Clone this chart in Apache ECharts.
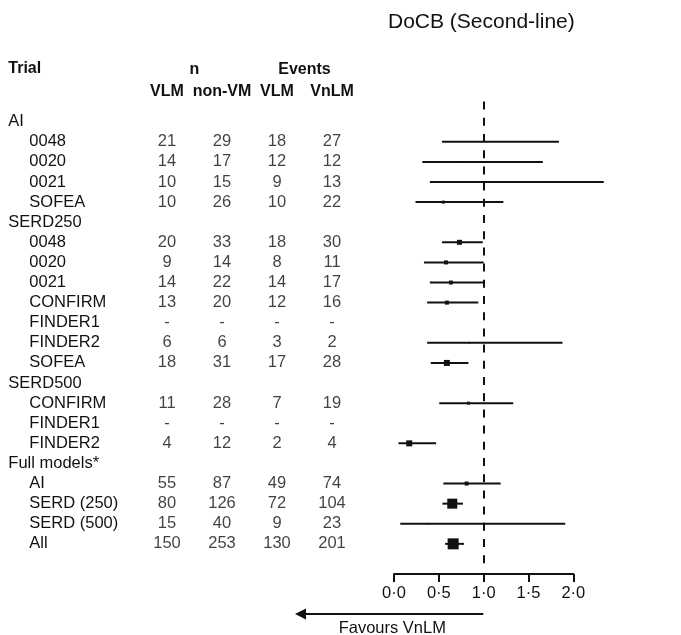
<!DOCTYPE html>
<html>
<head>
<meta charset="utf-8">
<script src="https://cdn.jsdelivr.net/npm/echarts@6/dist/echarts.min.js"></script>
<style>html,body{margin:0;padding:0;background:#fff}#c{width:681px;height:635px}</style>
</head>
<body>
<div id="c"></div>
<script>
// ---------- DATA ----------
const rowNames = ['AI','0048','0020','0021','SOFEA','SERD250','0048','0020','0021','CONFIRM','FINDER1','FINDER2','SOFEA','SERD500','CONFIRM','FINDER1','FINDER2','Full models*','AI','SERD (250)','SERD (500)','All'];
const rowLevel = [0,1,1,1,1,0,1,1,1,1,1,1,1,0,1,1,1,0,1,1,1,1];
const colHeaders = ['VLM','non-VM','VLM','VnLM'];
const nVLM   = [null,21,14,10,10,null,20,9,14,13,'-',6,18,null,11,'-',4,null,55,80,15,150];
const nNonVM = [null,29,17,15,26,null,33,14,22,20,'-',6,31,null,28,'-',12,null,87,126,40,253];
const evVLM  = [null,18,12,9,10,null,18,8,14,12,'-',3,17,null,7,'-',2,null,49,72,9,130];
const evVnLM = [null,27,12,13,22,null,30,11,17,16,'-',2,28,null,19,'-',4,null,74,104,23,201];
const est    = [null,0.99,0.73,0.98,0.55,null,0.73,0.58,0.635,0.59,null,0.84,0.59,null,0.83,null,0.17,null,0.81,0.65,0.39,0.66];
const lower  = [null,0.535,0.316,0.40,0.24,null,0.535,0.334,0.40,0.37,null,0.37,0.41,null,0.505,null,0.05,null,0.55,0.54,0.07,0.57];
const upper  = [null,1.84,1.66,2.34,1.22,null,0.99,1.00,1.00,0.94,null,1.88,0.83,null,1.33,null,0.47,null,1.19,0.77,1.91,0.78];
const weight = [null,1,1.5,1.5,3,null,5,4,4,4,null,1.5,6,null,3,null,6,null,4,10,1.5,11];
const xTicks = [0, 0.5, 1, 1.5, 2];
const refValue = 1;

// ---------- STYLE / LAYOUT ----------
const FONT = '"Liberation Sans", Arial, Helvetica, sans-serif';
const INK = '#111';
const FS = 16.5;
const GRID_TOP = 101.6, GRID_H = 472.4;
const SQ = 1; // px per weight unit

const chart = echarts.init(document.getElementById('c'), null, {renderer: 'canvas'});

function colSeries(arr, col) {
  return {
    type: 'scatter', xAxisIndex: 1, yAxisIndex: 1, silent: true,
    symbolSize: 1, itemStyle: {color: 'rgba(0,0,0,0)'},
    label: {show: true, position: 'inside', formatter: '{b}', fontSize: FS, color: INK, fontFamily: FONT},
    data: arr.map((v, i) => v == null ? null : {name: String(v), value: [col, i]}).filter(Boolean)
  };
}

const forestData = rowNames.map((_, i) => est[i] == null ? null : [i, est[i], lower[i], upper[i], weight[i]]).filter(Boolean);

const option = {
  animation: false,
  backgroundColor: '#fff',
  textStyle: {fontFamily: FONT},
  title: {
    text: 'DoCB (Second-line)', left: 388, top: 12, padding: 0,
    textStyle: {fontSize: 21, fontWeight: 'normal', color: INK, fontFamily: FONT}
  },
  grid: [
    {left: 394, width: 179.3, top: GRID_TOP, height: GRID_H},
    {left: 139.5, width: 220, top: GRID_TOP, height: GRID_H}
  ],
  xAxis: [
    {
      type: 'value', gridIndex: 0, position: 'bottom',
      min: xTicks[0], max: xTicks[xTicks.length - 1], interval: 0.5,
      axisLine: {show: true, onZero: false, lineStyle: {color: INK, width: 2}},
      axisTick: {show: true, inside: false, length: 8, lineStyle: {color: INK, width: 2}},
      axisLabel: {fontSize: FS, color: INK, fontFamily: FONT, margin: 11,
        formatter: v => v.toFixed(1).replace('.', '\u00B7')},
      splitLine: {show: false}
    },
    {
      type: 'category', gridIndex: 1, position: 'top', data: colHeaders,
      axisLine: {show: false, onZero: false}, axisTick: {show: false}, splitLine: {show: false},
      axisLabel: {interval: 0, fontSize: 16, fontWeight: 'bold', color: INK, fontFamily: FONT, margin: 2}
    }
  ],
  yAxis: [
    {type: 'value', gridIndex: 0, min: -1, max: 22.5, inverse: true, show: false},
    {
      type: 'value', gridIndex: 1, min: -1, max: 22.5, interval: 1, inverse: true,
      axisLine: {show: false}, axisTick: {show: false}, splitLine: {show: false},
      axisLabel: {
        align: 'left', margin: 131.2, fontSize: FS, color: INK, fontFamily: FONT,
        formatter: v => {
          if (!Number.isInteger(v) || v < 0 || v >= rowNames.length) return '';
          return rowLevel[v] === 0 ? '{g|' + rowNames[v] + '}' : '{s|' + rowNames[v] + '}';
        },
        rich: {
          g: {fontSize: FS, color: INK, fontFamily: FONT},
          s: {fontSize: FS, color: INK, fontFamily: FONT, padding: [0, 0, 0, 21]}
        }
      }
    }
  ],
  series: [
    {
      type: 'line', xAxisIndex: 0, yAxisIndex: 0, data: [], silent: true,
      markLine: {
        silent: true, symbol: ['none', 'none'], label: {show: false},
        lineStyle: {color: INK, width: 2, type: [8, 8.2]},
        data: [[{coord: [refValue, -1]}, {coord: [refValue, 22]}]]
      }
    },
    {
      type: 'custom', xAxisIndex: 0, yAxisIndex: 0, clip: false, silent: true,
      encode: {x: [1, 2, 3], y: 0},
      data: forestData,
      renderItem: (params, api) => {
        const r = api.value(0);
        const e = api.coord([api.value(1), r]);
        const l = api.coord([api.value(2), r]);
        const h = api.coord([api.value(3), r]);
        const s = api.value(4) * SQ;
        return {
          type: 'group',
          children: [
            {type: 'line', shape: {x1: l[0], y1: l[1], x2: h[0], y2: h[1]}, style: {stroke: INK, lineWidth: 2}},
            {type: 'rect', shape: {x: e[0] - s / 2, y: e[1] - s / 2, width: s, height: s}, style: {fill: INK}}
          ]
        };
      }
    },
    colSeries(nVLM, 0),
    colSeries(nNonVM, 1),
    colSeries(evVLM, 2),
    colSeries(evVnLM, 3)
  ],
  graphic: [
    {type: 'text', left: 8.3, top: 61, style: {text: 'Trial', font: 'bold 16px ' + FONT, fill: INK}},
    {type: 'text', x: 194.5, y: 70, style: {text: 'n', font: 'bold 16px ' + FONT, fill: INK, textAlign: 'center', textVerticalAlign: 'middle'}},
    {type: 'text', x: 304.5, y: 70, style: {text: 'Events', font: 'bold 16px ' + FONT, fill: INK, textAlign: 'center', textVerticalAlign: 'middle'}},
    {type: 'line', shape: {x1: 300, y1: 614, x2: 483.3, y2: 614}, style: {stroke: INK, lineWidth: 2}},
    {type: 'polygon', shape: {points: [[295, 614], [306, 608.5], [306, 619.5]]}, style: {fill: INK}},
    {type: 'text', x: 392.3, y: 628, style: {text: 'Favours VnLM', font: FS + 'px ' + FONT, fill: INK, textAlign: 'center', textVerticalAlign: 'middle'}}
  ]
};
chart.setOption(option);
</script>
</body>
</html>
